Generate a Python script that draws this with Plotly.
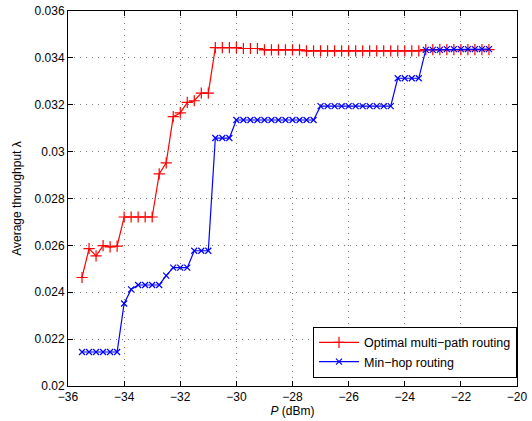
import plotly.graph_objects as go

# x values: power in dBm
p_dbm = [-35.5 + 0.25 * i for i in range(59)]

optimal = [0.02463, 0.02586, 0.02555, 0.02599, 0.02594, 0.02597,
           0.02721, 0.02721, 0.02721, 0.02721, 0.02721,
           0.02905, 0.02952, 0.03149, 0.03165, 0.03210, 0.03217, 0.03250, 0.03250,
           0.03444, 0.03444, 0.03444, 0.03444,
           0.03440, 0.03440, 0.03440,
           0.03434, 0.03434, 0.03434, 0.03434, 0.03434, 0.03434] + \
          [0.03430] * 17 + [0.03435] * 10

minhop = [0.02145] * 6 + [0.02352, 0.02412, 0.02431, 0.02431, 0.02431, 0.02431,
                          0.02471, 0.02505, 0.02505, 0.02505,
                          0.02577, 0.02577, 0.02577,
                          0.03058, 0.03058, 0.03058] + \
         [0.03135] * 12 + [0.03194] * 11 + [0.03313] * 4 + [0.03434] * 3 + [0.03437] * 7

x_ticks = [-36, -34, -32, -30, -28, -26, -24, -22, -20]
x_ticklabels = ["\u221236", "\u221234", "\u221232", "\u221230", "\u221228", "\u221226", "\u221224", "\u221222", "\u221220"]
y_ticks = [0.02, 0.022, 0.024, 0.026, 0.028, 0.03, 0.032, 0.034, 0.036]
y_ticklabels = ["0.02", "0.022", "0.024", "0.026", "0.028", "0.03", "0.032", "0.034", "0.036"]

fig = go.Figure()
fig.add_trace(go.Scatter(
    x=p_dbm, y=optimal, mode="lines+markers", name="Optimal multi\u2212path routing",
    line=dict(color="#ff0000", width=1.2),
    marker=dict(symbol="cross-thin", size=8, line=dict(color="#ff0000", width=1.2), color="#ff0000"),
))
fig.add_trace(go.Scatter(
    x=p_dbm, y=minhop, mode="lines+markers", name="Min\u2212hop routing",
    line=dict(color="#0000ff", width=1.2),
    marker=dict(symbol="x-thin", size=6, line=dict(color="#0000ff", width=1.2), color="#0000ff"),
))

axis_common = dict(
    showline=True, linecolor="black", linewidth=1, mirror="ticks",
    ticks="inside", ticklen=5, tickcolor="black",
    showgrid=True, gridcolor="#777777", griddash="1px,5px", gridwidth=1,
    zeroline=False, automargin=False,
    tickfont=dict(family="Liberation Sans, Arial, sans-serif", size=12, color="black"),
)

fig.update_layout(
    width=532, height=421,
    margin=dict(l=68, r=15, t=11, b=35),
    paper_bgcolor="white", plot_bgcolor="white",
    font=dict(family="Liberation Sans, Arial, sans-serif", size=12, color="black"),
    xaxis=dict(range=[-36, -20], tickvals=x_ticks, ticktext=x_ticklabels,
               title=dict(text="<i>P</i> (dBm)", standoff=2, font=dict(size=12)),
               **axis_common),
    yaxis=dict(range=[0.02, 0.036], tickvals=y_ticks, ticktext=y_ticklabels,
               title=dict(text="Average throughput \u03bb", standoff=10, font=dict(size=12)),
               **axis_common),
    legend=dict(x=1.0, y=0.022, xanchor="right", yanchor="bottom",
                bgcolor="white", bordercolor="black", borderwidth=1,
                font=dict(size=12.5), tracegroupgap=0, itemwidth=40),
    showlegend=True,
)

fig.write_html("out.html")
